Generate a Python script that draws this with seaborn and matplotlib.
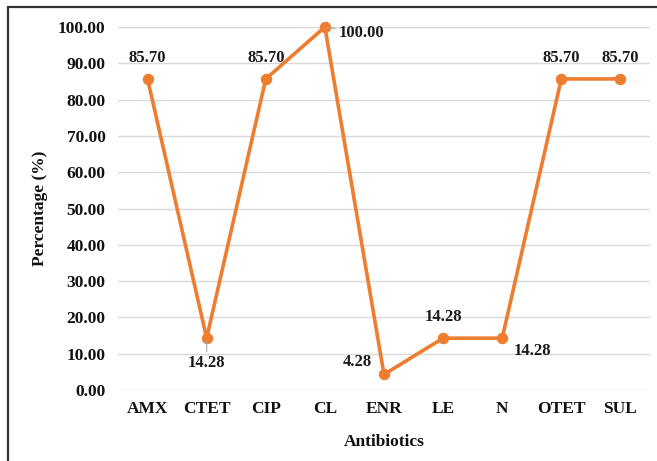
import matplotlib
matplotlib.use("Agg")
import matplotlib.pyplot as plt
import seaborn as sns
import pandas as pd
from matplotlib.lines import Line2D

antibiotics = ["AMX", "CTET", "CIP", "CL", "ENR", "LE", "N", "OTET", "SUL"]
percentage = [85.70, 14.28, 85.70, 100.00, 4.28, 14.28, 14.28, 85.70, 85.70]
label_text = ["85.70", "14.28", "85.70", "100.00", "4.28", "14.28", "14.28", "85.70", "85.70"]

# where each data label sits, in points from its marker
label_offsets = [(0, 15), (0, -18), (0, 15), (26, -4), (-19, 9), (0, 15), (22, -9), (0, 15), (0, 15)]
leader = [False, True, False, True, False, False, False, False, False]

sns.set_theme(style="white")
plt.rcParams['font.family'] = ['Liberation Serif', 'DejaVu Serif']
plt.rcParams['font.weight'] = 'bold'

df = pd.DataFrame({"Antibiotics": antibiotics, "Percentage": percentage})

fig = plt.figure(figsize=(6.57, 4.61), dpi=100)
ax = fig.add_axes([0.1796, 0.154, 0.8097, 0.7874])

orange = "#EE7D2F"
sns.lineplot(data=df, x="Antibiotics", y="Percentage", sort=False, ax=ax,
             color=orange, linewidth=2.6, marker="o", markersize=7.5,
             markeredgecolor=orange, markerfacecolor=orange, clip_on=False)

ax.set_ylim(0, 100)
ax.set_xlim(-0.5, len(antibiotics) - 0.5)
ax.set_yticks(range(0, 101, 10))
ax.set_yticklabels([f"{v:.2f}" for v in range(0, 101, 10)])
ax.yaxis.grid(True, color="#D9D9D9", linewidth=1.0)
ax.set_axisbelow(True)
for s in ax.spines.values():
    s.set_visible(False)
ax.tick_params(axis="both", length=0, labelsize=12.5, labelcolor="#111111")
ax.tick_params(axis="y", pad=9)
ax.tick_params(axis="x", pad=8)
for t in ax.get_xticklabels() + ax.get_yticklabels():
    t.set_fontweight("bold")

ax.set_xlabel("Antibiotics", fontsize=12.5, fontweight="bold", labelpad=12, color="#111111")
ax.set_ylabel("Percentage (%)", fontsize=12.5, fontweight="bold", labelpad=7, color="#111111")

for i, (val, txt) in enumerate(zip(percentage, label_text)):
    dx, dy = label_offsets[i]
    props = dict(arrowstyle="-", color="#A6A6A6", lw=0.8, shrinkA=0, shrinkB=2) if leader[i] else None
    ax.annotate(txt, xy=(i, val), xytext=(dx, dy), textcoords="offset points",
                ha="center", va="center", fontsize=12, fontweight="bold",
                color="#1a1a1a", arrowprops=props, annotation_clip=False)

# frame lines of the original figure (top and left only)
fig.add_artist(Line2D([8 / 657, 1.0], [1 - 7 / 461, 1 - 7 / 461], transform=fig.transFigure,
                      color="#333333", linewidth=1.6))
fig.add_artist(Line2D([8 / 657, 8 / 657], [0, 1 - 7 / 461], transform=fig.transFigure,
                      color="#333333", linewidth=1.6))

fig.savefig("out.png", dpi=100)
